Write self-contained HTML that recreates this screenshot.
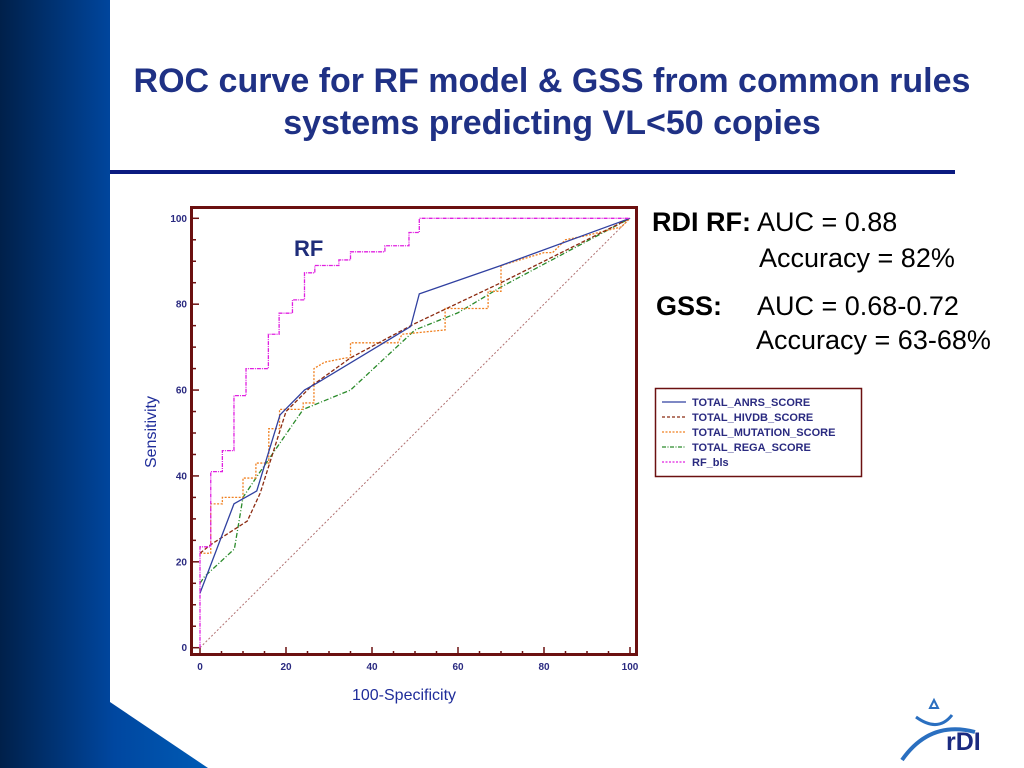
<!DOCTYPE html>
<html><head><meta charset="utf-8">
<style>
html,body{margin:0;padding:0;}
body{width:1024px;height:768px;position:relative;overflow:hidden;background:#fff;font-family:"Liberation Sans",sans-serif;}
.abs{position:absolute;}
.st{font-size:27px;color:#000;white-space:nowrap;position:absolute;}
</style></head>
<body>
<svg class="abs" style="left:0;top:0" width="1024" height="768">
<defs><linearGradient id="g" x1="0" x2="1" y1="0" y2="0"><stop offset="0" stop-color="#00204a"/><stop offset="0.55" stop-color="#0047a0"/><stop offset="1" stop-color="#005bb5"/></linearGradient></defs>
<polygon points="0,0 110,0 110,702 208,768 0,768" fill="url(#g)"/>
<rect x="110" y="170" width="845" height="4" fill="#0a1a80"/>
</svg>
<div class="abs" style="left:110px;top:60px;width:884px;text-align:center;color:#1f3185;font-weight:bold;font-size:34px;line-height:42px;">ROC curve for RF model &amp; GSS from common rules<br>systems predicting VL&lt;50 copies</div>

<div class="st" style="left:652px;top:207px;"><b>RDI RF:</b> AUC = 0.88</div>
<div class="st" style="left:759px;top:243px;">Accuracy = 82%</div>
<div class="st" style="left:656px;top:291px;"><b>GSS:</b></div>
<div class="st" style="left:757px;top:291px;">AUC = 0.68-0.72</div>
<div class="st" style="left:756px;top:325px;">Accuracy = 63-68%</div>

<svg class="abs" style="left:0;top:0" width="1024" height="768" id="chart"></svg>

<svg class="abs" style="left:880px;top:690px" width="144" height="78">
<path d="M36,27 Q58,43 72,25" stroke="#2a6fc0" stroke-width="3" fill="none"/>
<polygon points="50,18 54,10 58,18" fill="none" stroke="#2a6fc0" stroke-width="2"/>
<path d="M22,70 Q50,30 95,42" stroke="#2a6fc0" stroke-width="4" fill="none"/>
<text x="66" y="60" font-family="Liberation Sans" font-weight="bold" font-size="25" fill="#1a2a80">rDI</text>
</svg>

<script>
const xTicks=[0,20,40,60,80,100];
const yTicks=[0,20,40,60,80,100];
const rfX=[0,0,2.5,2.5,5.2,5.2,7.9,7.9,10.7,10.7,15.9,15.9,18.4,18.4,21.5,21.5,24.3,24.3,26.7,26.7,32.3,32.3,35,35,43,43,48.6,48.6,51,51,100];
const rfY=[0,23.5,23.5,41,41,45.9,45.9,58.7,58.7,65,65,73,73,77.9,77.9,81,81,87.3,87.3,89,89,90.3,90.3,92.2,92.2,93.6,93.6,96.7,96.7,100,100];
const anrsX=[0,7.9,13.2,18.6,24.3,27,49,51,70,100];
const anrsY=[12.7,33.5,36.5,54.2,60,61.5,74.8,82.4,89,100];
const hivdbX=[0,2.5,11,14,20,26,35,50,70,100];
const hivdbY=[22,24,29.5,36,55,61,67.5,75.5,85,100];
const mutX=[0,2.5,2.5,5.2,5.2,10,10,13,13,16,16,18.5,18.5,24,24,26.5,26.5,29,34,35,35,46,47,57,57,67,67,70,70,80,82,85,90,98,100];
const mutY=[22,22,33.5,33.5,35,35,39.5,39.5,43,43,51,51,55.5,55.5,57,57,65,66.5,67.5,67.5,71,71,73,74,79,79,83,83,89,92,92,95,96,98,100];
const regaX=[0,1,8,10,14,24,35,50,60,70,100];
const regaY=[15,16.5,23,35,41,55.5,60,74,78,84,100];
const diagX=[0,100];
const diagY=[0,100];
const NS='http://www.w3.org/2000/svg';
const svg=document.getElementById('chart');
const X0=200,X1=630,Y0=647.7,Y1=218.3;
function sx(v){return X0+(X1-X0)*v/100;}
function sy(v){return Y0+(Y1-Y0)*v/100;}
function mk(t,a){const e=document.createElementNS(NS,t);for(const k in a)e.setAttribute(k,a[k]);svg.appendChild(e);return e;}
const frame=mk('rect',{x:191.5,y:207.5,width:445,height:447,fill:'#fff',stroke:'#6b1010','stroke-width':3});


for(let v=0;v<=100;v+=5){
  const big=v%20===0;
  const t1=mk('line',{x1:191,x2:big?199:196,y1:sy(v),y2:sy(v),stroke:'#6b1010','stroke-width':1.5});
  
  
  const t2=mk('line',{x1:sx(v),x2:sx(v),y1:655,y2:big?647:651,stroke:'#6b1010','stroke-width':1.5});
  
  
}
yTicks.forEach(v=>{const t=mk('text',{x:187,y:sy(v)+3.5,'text-anchor':'end','font-size':10,'font-weight':'bold',fill:'#2a2a80','font-family':'Liberation Sans'});t.textContent=v;

});
xTicks.forEach(v=>{const t=mk('text',{x:sx(v),y:670,'text-anchor':'middle','font-size':10,'font-weight':'bold',fill:'#2a2a80','font-family':'Liberation Sans'});t.textContent=v;

});
function line(xs,ys,col,dash,name,w){
  const p=mk('polyline',{points:xs.map((x,i)=>sx(x)+','+sy(ys[i])).join(' '),fill:'none',stroke:col,'stroke-width':w||1.3,'stroke-dasharray':dash});
  
  
}
line(diagX,diagY,'#b07070','2,2','diagonal-reference',1);
line(regaX,regaY,'#2a8a2a','5,2,1,2','rega-line');
line(mutX,mutY,'#f08020','2,1.5','mutation-line');
line(hivdbX,hivdbY,'#8b2a10','4,2','hivdb-line');
line(anrsX,anrsY,'#3040a0','','anrs-line');
line(rfX,rfY,'#e020e0','4,1,1,1','rf-line');
const rf=mk('text',{x:294,y:256,'font-size':22,'font-weight':'bold',fill:'#1f2d7a','font-family':'Liberation Sans'});rf.textContent='RF';


const xt=mk('text',{x:404,y:700,'text-anchor':'middle','font-size':16,fill:'#1f2d9a','font-family':'Liberation Sans'});xt.textContent='100-Specificity';


const yt=mk('text',{x:156,y:432,'text-anchor':'middle','font-size':16,fill:'#1f2d9a','font-family':'Liberation Sans',transform:'rotate(-90 156 432)'});yt.textContent='Sensitivity';


const lg=mk('rect',{x:655.5,y:388.5,width:206,height:88,fill:'#fff',stroke:'#6b1010','stroke-width':1.5});


const legNames=['TOTAL_ANRS_SCORE','TOTAL_HIVDB_SCORE','TOTAL_MUTATION_SCORE','TOTAL_REGA_SCORE','RF_bls'];
const legCols=['#3040a0','#8b2a10','#f08020','#2a8a2a','#e020e0'];
const legDash=['','3,2','2,1.5','4,1.5,1,1.5','2,1.5'];
legNames.forEach((n,i)=>{
  const y=402+i*15;
  const l=mk('line',{x1:662,x2:686,y1:y,y2:y,stroke:legCols[i],'stroke-width':1.3,'stroke-dasharray':legDash[i]});
  
  
  const t=mk('text',{x:692,y:y+4,'font-size':11,'font-weight':'bold',fill:'#2a2a80','font-family':'Liberation Sans'});t.textContent=n;
  
  
});
</script>
</body></html>
